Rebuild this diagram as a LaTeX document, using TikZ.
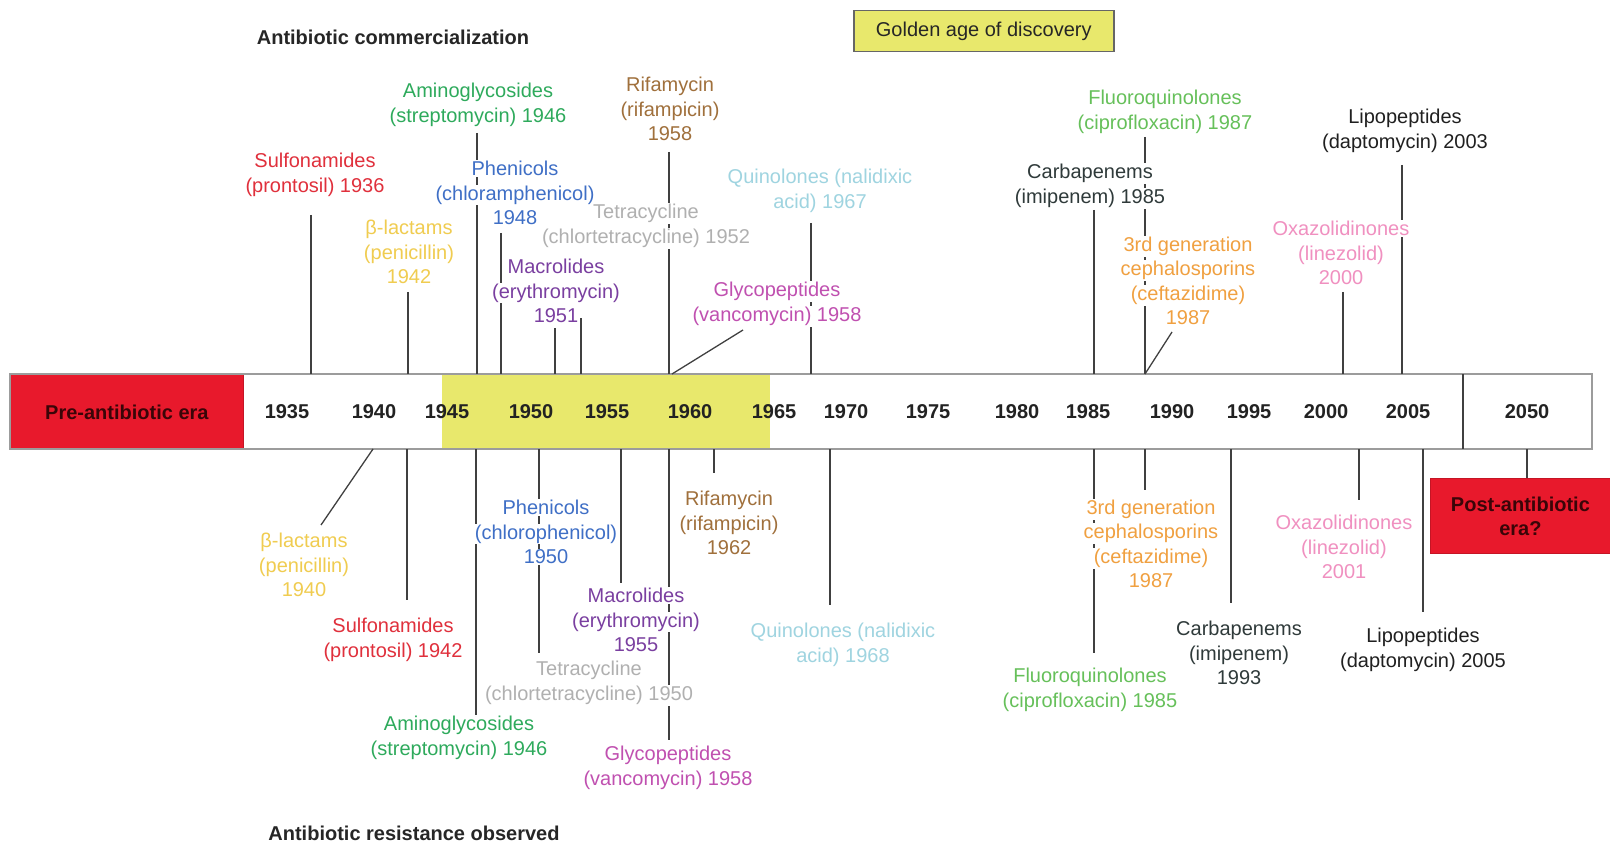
\documentclass[tikz,border=0pt]{standalone}
\usepackage{fontspec}
\setmainfont{Liberation Sans}
\usetikzlibrary{calc}
\definecolor{prered}{HTML}{E8192C}
\definecolor{pretxt}{HTML}{3A0508}
\definecolor{goldfill}{HTML}{E8E86C}
\definecolor{bargray}{HTML}{9C9C9C}
\definecolor{linegray}{HTML}{404040}
\definecolor{yeartxt}{HTML}{222222}
\definecolor{cSulR}{HTML}{E0303C}
\definecolor{cBetaY}{HTML}{F0CC50}
\definecolor{cAmiG}{HTML}{2EAA5C}
\definecolor{cPheB}{HTML}{3F6FC6}
\definecolor{cMacP}{HTML}{7A3FA0}
\definecolor{cRifB}{HTML}{A0703C}
\definecolor{cTetG}{HTML}{B0B0B0}
\definecolor{cQuiL}{HTML}{9FD4E0}
\definecolor{cGlyM}{HTML}{C050B0}
\definecolor{cCarD}{HTML}{2F3A3A}
\definecolor{cFluG}{HTML}{66C05A}
\definecolor{cCepO}{HTML}{F0A040}
\definecolor{cOxaP}{HTML}{F090C0}
\definecolor{cLipK}{HTML}{202020}
\setlength{\fboxsep}{1pt}
\newcommand\wb[1]{\colorbox{white}{#1}}
\begin{document}
\begin{tikzpicture}[x=1pt,y=-1pt,
  lab/.style={align=center, font=\fontsize{20}{24.5}\selectfont, inner sep=0pt},
  conn/.style={draw=linegray, line width=1.3pt},
  yr/.style={font=\bfseries\fontsize{20}{24}\selectfont, text=yeartxt, inner sep=0pt},
  head/.style={font=\bfseries\fontsize{20}{24}\selectfont, text=black!85, inner sep=0pt}]
\useasboundingbox (0,0) rectangle (1610,845);

% timeline bar
\node[fill=white, minimum width=1582pt, minimum height=75pt, inner sep=0pt, anchor=north west] (bar) at (10,374) {};
\node[fill=prered, draw=prered!85!black, line width=0.8pt, minimum width=233pt, minimum height=75pt, inner sep=0pt, anchor=north west,
      font=\bfseries\fontsize{20}{24}\selectfont, text=pretxt] (pre) at (10,374) {Pre-antibiotic era};
\node[fill=goldfill, minimum width=328pt, minimum height=75pt, inner sep=0pt, anchor=north west] (golden) at (442,374) {};
\draw[bargray, line width=2pt] (bar.north west) rectangle (bar.south east);
\coordinate (dv) at (1463,374);
\draw[linegray, line width=1.3pt] (dv) -- (dv |- bar.south);

% years
\node[yr] (y1935) at (287,412) {1935};
\node[yr] (y1940) at (374,412) {1940};
\node[yr] (y1945) at (447,412) {1945};
\node[yr] (y1950) at (531,412) {1950};
\node[yr] (y1955) at (607,412) {1955};
\node[yr] (y1960) at (690,412) {1960};
\node[yr] (y1965) at (774,412) {1965};
\node[yr] (y1970) at (846,412) {1970};
\node[yr] (y1975) at (928,412) {1975};
\node[yr] (y1980) at (1017,412) {1980};
\node[yr] (y1985) at (1088,412) {1985};
\node[yr] (y1990) at (1172,412) {1990};
\node[yr] (y1995) at (1249,412) {1995};
\node[yr] (y2000) at (1326,412) {2000};
\node[yr] (y2005) at (1408,412) {2005};
\node[yr] (y2050) at (1527,412) {2050};

% headings and key
\node[head] (tcom) at (393,37) {Antibiotic commercialization};
\node[head] (tres) at (414,833) {Antibiotic resistance observed};
\node[draw=linegray!80, line width=1.5pt, fill=goldfill, minimum width=260pt, minimum height=41pt, inner sep=0pt, anchor=north west,
      font=\fontsize{20}{24}\selectfont, text=black!85] (gbox) at (853,10) {Golden age of discovery};

% post-antibiotic era
\node[fill=prered, draw=prered!85!black, line width=0.8pt, minimum width=180pt, minimum height=75pt, inner sep=0pt, anchor=north west,
      align=center, font=\bfseries\fontsize{20}{24}\selectfont, text=pretxt] (post) at (1430,478) {Post-antibiotic\\era?};
\draw[conn] (y2050 |- bar.south) -- (y2050 |- post.north);

% ---------- top connectors ----------
\coordinate (aSul) at (311,215);
\coordinate (aBeta) at (408,292);
\coordinate (aAmi) at (477,133);
\coordinate (aPhe) at (501,233);
\coordinate (aMac) at (555,328);
\coordinate (aTet) at (581,318);
\coordinate (aRif) at (669,152);
\coordinate (aQui) at (811,223);
\coordinate (aGly) at (743,330);
\coordinate (aGlyB) at (672,374);
\coordinate (aCar) at (1094,210);
\coordinate (aFlu) at (1145,137);
\coordinate (aCep) at (1172,332);
\coordinate (aCepB) at (1145,374);
\coordinate (aOxa) at (1343,292);
\coordinate (aLip) at (1402,165);
\foreach \c in {aSul,aBeta,aAmi,aPhe,aMac,aTet,aRif,aQui,aCar,aFlu,aOxa,aLip}
  \draw[conn] (\c) -- (\c |- bar.north);
\draw[conn] (aGly) -- (aGlyB);
\draw[conn] (aCep) -- (aCepB);

% ---------- bottom connectors ----------
\coordinate (zBeta) at (321,525);
\coordinate (zBetaB) at (373,449);
\coordinate (zSul) at (407,600);
\coordinate (zAmi) at (476,717);
\coordinate (zTet) at (539,653);
\coordinate (zMac) at (621,583);
\coordinate (zGly) at (669,740);
\coordinate (zRif) at (714,473);
\coordinate (zQui) at (830,605);
\coordinate (zCep) at (1145,490);
\coordinate (zFlu) at (1094,653);
\coordinate (zCar) at (1231,603);
\coordinate (zOxa) at (1359,500);
\coordinate (zLip) at (1423,612);
\foreach \c in {zSul,zAmi,zTet,zMac,zGly,zRif,zQui,zCep,zFlu,zCar,zOxa,zLip}
  \draw[conn] (\c |- bar.south) -- (\c);
\draw[conn] (zBetaB) -- (zBeta);

% ---------- top labels ----------
\node[lab, text=cSulR] (tSul) at (315,175) {\wb{Sulfonamides}\\\wb{(prontosil) 1936}};
\node[lab, text=cBetaY] (tBeta) at (409,252) {\wb{β-lactams}\\\wb{(penicillin)}\\\wb{1942}};
\node[lab, text=cAmiG] (tAmi) at (478,105) {\wb{Aminoglycosides}\\\wb{(streptomycin) 1946}};
\node[lab, text=cPheB] (tPhe) at (515,193) {\wb{Phenicols}\\\wb{(chloramphenicol)}\\\wb{1948}};
\node[lab, text=cMacP] (tMac) at (556,291) {\wb{Macrolides}\\\wb{(erythromycin)}\\\wb{1951}};
\node[lab, text=cRifB] (tRif) at (670,109) {\wb{Rifamycin}\\\wb{(rifampicin)}\\\wb{1958}};
\node[lab, text=cTetG] (tTet) at (646,226) {\wb{Tetracycline}\\\wb{(chlortetracycline) 1952}};
\node[lab, text=cQuiL] (tQui) at (820,191) {\wb{Quinolones (nalidixic}\\\wb{acid) 1967}};
\node[lab, text=cGlyM] (tGly) at (777,304) {\wb{Glycopeptides}\\\wb{(vancomycin) 1958}};
\node[lab, text=cCarD] (tCar) at (1090,186) {\wb{Carbapenems}\\\wb{(imipenem) 1985}};
\node[lab, text=cFluG] (tFlu) at (1165,112) {\wb{Fluoroquinolones}\\\wb{(ciprofloxacin) 1987}};
\node[lab, text=cCepO] (tCep) at (1188,281) {\wb{3rd generation}\\\wb{cephalosporins}\\\wb{(ceftazidime)}\\\wb{1987}};
\node[lab, text=cOxaP] (tOxa) at (1341,253) {\wb{Oxazolidinones}\\\wb{(linezolid)}\\\wb{2000}};
\node[lab, text=cLipK] (tLip) at (1405,131) {\wb{Lipopeptides}\\\wb{(daptomycin) 2003}};

% ---------- bottom labels ----------
\node[lab, text=cBetaY] (bBeta) at (304,565) {\wb{β-lactams}\\\wb{(penicillin)}\\\wb{1940}};
\node[lab, text=cSulR] (bSul) at (393,640) {\wb{Sulfonamides}\\\wb{(prontosil) 1942}};
\node[lab, text=cAmiG] (bAmi) at (459,738) {\wb{Aminoglycosides}\\\wb{(streptomycin) 1946}};
\node[lab, text=cPheB] (bPhe) at (546,532) {\wb{Phenicols}\\\wb{(chlorophenicol)}\\\wb{1950}};
\node[lab, text=cTetG] (bTet) at (589,683) {\wb{Tetracycline}\\\wb{(chlortetracycline) 1950}};
\node[lab, text=cMacP] (bMac) at (636,620) {\wb{Macrolides}\\\wb{(erythromycin)}\\\wb{1955}};
\node[lab, text=cGlyM] (bGly) at (668,768) {\wb{Glycopeptides}\\\wb{(vancomycin) 1958}};
\node[lab, text=cRifB] (bRif) at (729,523) {\wb{Rifamycin}\\\wb{(rifampicin)}\\\wb{1962}};
\node[lab, text=cQuiL] (bQui) at (843,645) {\wb{Quinolones (nalidixic}\\\wb{acid) 1968}};
\node[lab, text=cCepO] (bCep) at (1151,544) {\wb{3rd generation}\\\wb{cephalosporins}\\\wb{(ceftazidime)}\\\wb{1987}};
\node[lab, text=cFluG] (bFlu) at (1090,690) {\wb{Fluoroquinolones}\\\wb{(ciprofloxacin) 1985}};
\node[lab, text=cCarD] (bCar) at (1239,653) {\wb{Carbapenems}\\\wb{(imipenem)}\\\wb{1993}};
\node[lab, text=cOxaP] (bOxa) at (1344,547) {\wb{Oxazolidinones}\\\wb{(linezolid)}\\\wb{2001}};
\node[lab, text=cLipK] (bLip) at (1423,650) {\wb{Lipopeptides}\\\wb{(daptomycin) 2005}};
\end{tikzpicture}
\end{document}
